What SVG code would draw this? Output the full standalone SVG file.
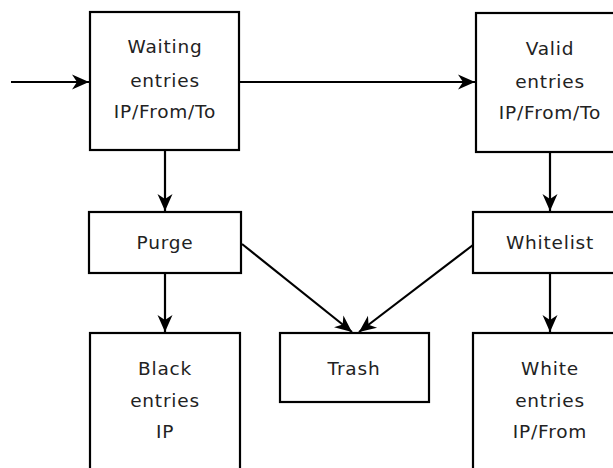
<svg xmlns="http://www.w3.org/2000/svg" width="613" height="468" viewBox="0 0 613 468">
<style>
rect{fill:#fff;stroke:#000;stroke-width:2.2}
text{font-family:"DejaVu Sans",sans-serif;font-size:18.5px;fill:#222;text-anchor:middle;letter-spacing:0.8px}
.c line{stroke:#000;stroke-width:2.2}
</style>
<defs>
<marker id="a" markerUnits="userSpaceOnUse" markerWidth="20" markerHeight="18" viewBox="-18 -9 19 18" refX="0" refY="0" orient="auto">
<path d="M0,0 L-17,-7.5 L-12,0 L-17,7.5 z" fill="#000"/>
</marker>
</defs>
<g class="c">
<line x1="11" y1="82" x2="89" y2="82" marker-end="url(#a)"/>
<line x1="240" y1="82" x2="475" y2="82" marker-end="url(#a)"/>
<line x1="165" y1="151" x2="165" y2="211" marker-end="url(#a)"/>
<line x1="165" y1="274" x2="165" y2="332" marker-end="url(#a)"/>
<line x1="550" y1="153" x2="550" y2="211" marker-end="url(#a)"/>
<line x1="550" y1="274" x2="550" y2="332" marker-end="url(#a)"/>
<line x1="242" y1="244" x2="352" y2="332" marker-end="url(#a)"/>
<line x1="473" y1="245" x2="359" y2="332" marker-end="url(#a)"/>
</g>
<g id="waiting"><rect x="90" y="12" width="149" height="138"/><text x="165" y="53">Waiting</text><text x="165" y="87">entries</text><text x="165" y="118">IP/From/To</text></g>
<g id="valid"><rect x="476" y="13" width="149" height="139"/><text x="550" y="55">Valid</text><text x="550" y="88">entries</text><text x="550" y="119">IP/From/To</text></g>
<g id="purge"><rect x="89" y="212" width="152" height="61"/><text x="165" y="249">Purge</text></g>
<g id="whitelist"><rect x="473" y="212" width="152" height="61"/><text x="550" y="249">Whitelist</text></g>
<g id="black"><rect x="90" y="333" width="150" height="150"/><text x="165" y="375">Black</text><text x="165" y="407">entries</text><text x="165" y="438">IP</text></g>
<g id="trash"><rect x="280" y="333" width="149" height="69"/><text x="354" y="375">Trash</text></g>
<g id="white"><rect x="473" y="333" width="152" height="150"/><text x="550" y="375">White</text><text x="550" y="407">entries</text><text x="550" y="438">IP/From</text></g>
</svg>
